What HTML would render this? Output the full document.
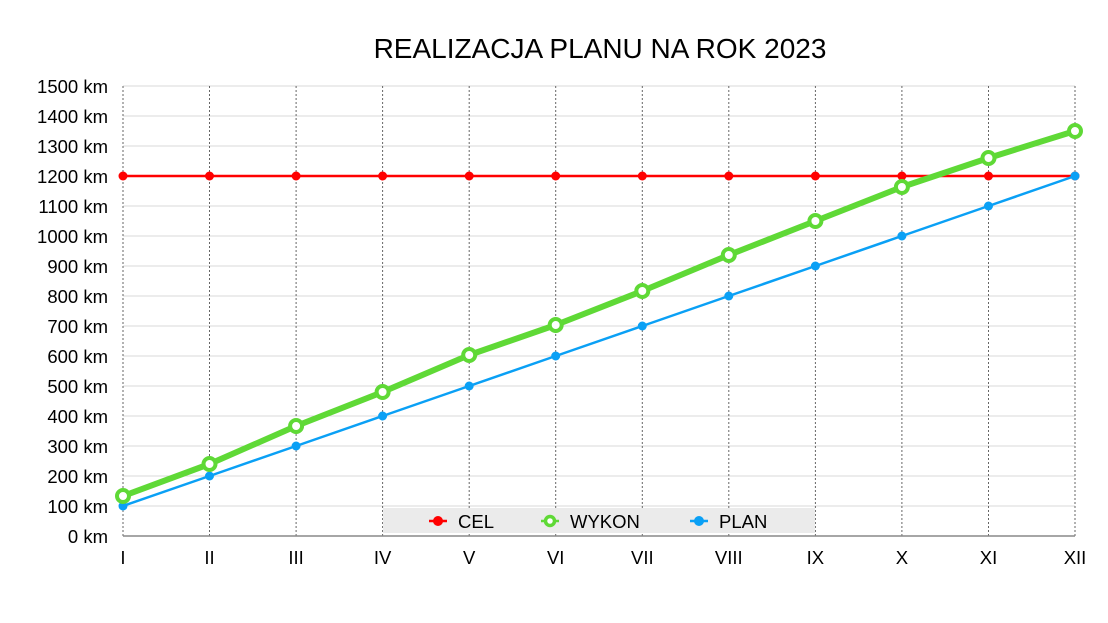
<!DOCTYPE html>
<html><head><meta charset="utf-8"><style>body{margin:0;background:#fff}svg{display:block}text{font-family:"Liberation Sans",Arial,sans-serif;fill:#000}</style></head><body>
<svg width="1108" height="623" viewBox="0 0 1108 623" xmlns="http://www.w3.org/2000/svg">
<text x="600" y="58" font-size="28" text-anchor="middle">REALIZACJA PLANU NA ROK 2023</text>
<g stroke="#d9d9d9" stroke-width="1">
<line x1="123" y1="86" x2="1075" y2="86"/><line x1="123" y1="116" x2="1075" y2="116"/><line x1="123" y1="146" x2="1075" y2="146"/><line x1="123" y1="176" x2="1075" y2="176"/><line x1="123" y1="206" x2="1075" y2="206"/><line x1="123" y1="236" x2="1075" y2="236"/><line x1="123" y1="266" x2="1075" y2="266"/><line x1="123" y1="296" x2="1075" y2="296"/><line x1="123" y1="326" x2="1075" y2="326"/><line x1="123" y1="356" x2="1075" y2="356"/><line x1="123" y1="386" x2="1075" y2="386"/><line x1="123" y1="416" x2="1075" y2="416"/><line x1="123" y1="446" x2="1075" y2="446"/><line x1="123" y1="476" x2="1075" y2="476"/><line x1="123" y1="506" x2="1075" y2="506"/>
</g>
<g stroke="#666" stroke-width="1" stroke-dasharray="2,2">
<line x1="123" y1="86" x2="123" y2="536"/><line x1="209.5" y1="86" x2="209.5" y2="536"/><line x1="296.1" y1="86" x2="296.1" y2="536"/><line x1="382.6" y1="86" x2="382.6" y2="536"/><line x1="469.2" y1="86" x2="469.2" y2="536"/><line x1="555.7" y1="86" x2="555.7" y2="536"/><line x1="642.3" y1="86" x2="642.3" y2="536"/><line x1="728.8" y1="86" x2="728.8" y2="536"/><line x1="815.4" y1="86" x2="815.4" y2="536"/><line x1="901.9" y1="86" x2="901.9" y2="536"/><line x1="988.5" y1="86" x2="988.5" y2="536"/><line x1="1075" y1="86" x2="1075" y2="536"/>
</g>
<rect x="383" y="508" width="432" height="25" fill="#ebebeb"/>
<line x1="123" y1="536" x2="1075" y2="536" stroke="#888" stroke-width="1.5"/>
<g font-size="18.5" text-anchor="end">
<text x="108" y="93">1500 km</text><text x="108" y="123">1400 km</text><text x="108" y="153">1300 km</text><text x="108" y="183">1200 km</text><text x="108" y="213">1100 km</text><text x="108" y="243">1000 km</text><text x="108" y="273">900 km</text><text x="108" y="303">800 km</text><text x="108" y="333">700 km</text><text x="108" y="363">600 km</text><text x="108" y="393">500 km</text><text x="108" y="423">400 km</text><text x="108" y="453">300 km</text><text x="108" y="483">200 km</text><text x="108" y="513">100 km</text><text x="108" y="543">0 km</text>
</g>
<g font-size="18.5" text-anchor="middle">
<text x="123" y="564">I</text><text x="209.5" y="564">II</text><text x="296.1" y="564">III</text><text x="382.6" y="564">IV</text><text x="469.2" y="564">V</text><text x="555.7" y="564">VI</text><text x="642.3" y="564">VII</text><text x="728.8" y="564">VIII</text><text x="815.4" y="564">IX</text><text x="901.9" y="564">X</text><text x="988.5" y="564">XI</text><text x="1075" y="564">XII</text>
</g>
<line x1="123" y1="176" x2="1075" y2="176" stroke="#ff0000" stroke-width="2.5"/>
<g fill="#ff0000">
<circle cx="123" cy="176" r="4.5"/><circle cx="209.5" cy="176" r="4.5"/><circle cx="296.1" cy="176" r="4.5"/><circle cx="382.6" cy="176" r="4.5"/><circle cx="469.2" cy="176" r="4.5"/><circle cx="555.7" cy="176" r="4.5"/><circle cx="642.3" cy="176" r="4.5"/><circle cx="728.8" cy="176" r="4.5"/><circle cx="815.4" cy="176" r="4.5"/><circle cx="901.9" cy="176" r="4.5"/><circle cx="988.5" cy="176" r="4.5"/><circle cx="1075" cy="176" r="4.5"/>
</g>
<polyline fill="none" stroke="#0aa0f5" stroke-width="2.5" points="123,506 209.5,476 296.1,446 382.6,416 469.2,386 555.7,356 642.3,326 728.8,296 815.4,266 901.9,236 988.5,206 1075,176"/>
<g fill="#0aa0f5">
<circle cx="123" cy="506" r="4.5"/><circle cx="209.5" cy="476" r="4.5"/><circle cx="296.1" cy="446" r="4.5"/><circle cx="382.6" cy="416" r="4.5"/><circle cx="469.2" cy="386" r="4.5"/><circle cx="555.7" cy="356" r="4.5"/><circle cx="642.3" cy="326" r="4.5"/><circle cx="728.8" cy="296" r="4.5"/><circle cx="815.4" cy="266" r="4.5"/><circle cx="901.9" cy="236" r="4.5"/><circle cx="988.5" cy="206" r="4.5"/><circle cx="1075" cy="176" r="4.5"/>
</g>
<polyline fill="none" stroke="#5fd936" stroke-width="6" stroke-linejoin="round" points="123,496 209.5,464 296.1,426 382.6,392 469.2,355 555.7,325 642.3,291 728.8,255 815.4,221 901.9,187 988.5,158 1075,131"/>
<g fill="#fff" stroke="#5fd936" stroke-width="4">
<circle cx="123" cy="496" r="6"/><circle cx="209.5" cy="464" r="6"/><circle cx="296.1" cy="426" r="6"/><circle cx="382.6" cy="392" r="6"/><circle cx="469.2" cy="355" r="6"/><circle cx="555.7" cy="325" r="6"/><circle cx="642.3" cy="291" r="6"/><circle cx="728.8" cy="255" r="6"/><circle cx="815.4" cy="221" r="6"/><circle cx="901.9" cy="187" r="6"/><circle cx="988.5" cy="158" r="6"/><circle cx="1075" cy="131" r="6"/>
</g>
<line x1="429" y1="521" x2="447" y2="521" stroke="#ff0000" stroke-width="2.5"/><circle cx="438" cy="521" r="5" fill="#ff0000"/>
<text x="458" y="528" font-size="18.5">CEL</text>
<line x1="541" y1="521" x2="559" y2="521" stroke="#5fd936" stroke-width="2.5"/><circle cx="550" cy="521" r="4.5" fill="#fff" stroke="#5fd936" stroke-width="3.5"/>
<text x="570" y="528" font-size="18.5">WYKON</text>
<line x1="690" y1="521" x2="708" y2="521" stroke="#0aa0f5" stroke-width="2.5"/><circle cx="699" cy="521" r="5" fill="#0aa0f5"/>
<text x="719" y="528" font-size="18.5">PLAN</text>
</svg>
</body></html>
